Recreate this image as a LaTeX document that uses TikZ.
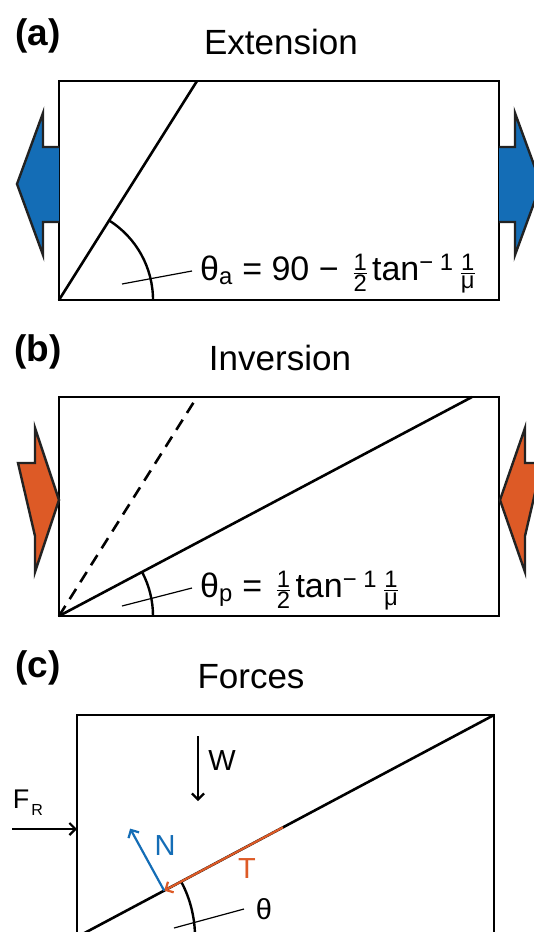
\documentclass[tikz,border=0pt]{standalone}
\usepackage{fontspec}
\usepackage{amsmath}
\setmainfont{Liberation Sans}
\usetikzlibrary{arrows.meta,calc}
\definecolor{pushblue}{HTML}{146DB6}
\definecolor{pushorange}{HTML}{DD5A26}
\definecolor{outline}{HTML}{222222}
\tikzset{
  block/.style={draw=black, line width=2.8pt, outer sep=0pt, inner sep=0pt},
  fault/.style={line width=2.6pt},
  anglearc/.style={line width=2.4pt},
  leader/.style={line width=1.2pt},
  push/.style={draw=outline, line width=2.4pt, line join=miter},
  panel/.style={font=\fontsize{37}{40}\selectfont\bfseries},
  title/.style={font=\fontsize{35}{40}\selectfont, inner sep=0pt},
  formula/.style={font=\fontsize{34}{40}\selectfont, inner sep=0pt, anchor=base west},
  flabel/.style={font=\fontsize{29}{34}\selectfont, inner sep=0pt},
  force/.style={-{Straight Barb[length=6pt, width=12pt]}, line width=2.2pt}
}

\begin{document}
\begin{tikzpicture}[x=1pt, y=1pt]
    \useasboundingbox (0,0) rectangle (534,-932);

    % (a) extension
    \node[panel] (labA) at (38,-36) {(a)};
    \node[title, anchor=base] (titA) at (281,-54) {Extension};
    \node[block, minimum width=440pt, minimum height=219pt] (boxA) at (279,-190.5) {};
    \coordinate (topA) at (197,-81);
    \draw[fault] (boxA.south west) -- (topA);
    \draw[anglearc] ($(boxA.south west)+(94,0)$) arc[start angle=0, end angle=57.8, radius=94pt];
    \coordinate (leadA1) at (122,-284);
    \coordinate (leadA2) at (192,-271);
    \draw[leader] (leadA1) -- (leadA2);
    \node[formula] (formA) at (200,-280)
      {θ\textsubscript{a} = 90 − $\,\frac{\text{1}}{\text{2}}\,$tan$^{\text{− 1}}$\hspace{6pt}$\frac{\text{1}}{\text{μ}}$};
    \draw[push, fill=pushblue] (59,-147) -- (43,-147) -- (43,-113) -- (17,-184)
      -- (43,-255) -- (43,-222) -- (59,-222);
    \draw[push, fill=pushblue] (499,-147) -- (515,-147) -- (515,-113) -- (541,-184)
      -- (515,-255) -- (515,-222) -- (499,-222);

    % (b) inversion
    \node[panel] (labB) at (38,-352) {(b)};
    \node[title, anchor=base] (titB) at (280,-370) {Inversion};
    \node[block, minimum width=440pt, minimum height=219pt] (boxB) at (279,-506.5) {};
    \coordinate (dashB) at (197,-397);
    \coordinate (topB) at (472,-397);
    \draw[fault, dash pattern=on 12pt off 8pt] (boxB.south west) -- (dashB);
    \draw[fault] (boxB.south west) -- (topB);
    \draw[anglearc] ($(boxB.south west)+(94,0)$) arc[start angle=0, end angle=27.9, radius=94pt];
    \coordinate (leadB1) at (122,-606);
    \coordinate (leadB2) at (192,-588);
    \draw[leader] (leadB1) -- (leadB2);
    \node[formula] (formB) at (200,-597)
      {θ\textsubscript{p} = $\,\frac{\text{1}}{\text{2}}\,$tan$^{\text{− 1}}$\hspace{6pt}$\frac{\text{1}}{\text{μ}}$};
    \draw[push, fill=pushorange] (18,-463) -- (35,-463) -- (35,-428) -- (59,-500)
      -- (35,-572) -- (35,-536) -- cycle;
    \draw[push, fill=pushorange] (542,-463) -- (525,-463) -- (525,-428) -- (500,-500)
      -- (525,-572) -- (525,-536) -- cycle;

    % (c) forces
    \node[panel] (labC) at (38,-668) {(c)};
    \node[title, anchor=base] (titC) at (251,-688) {Forces};
    \node[block, minimum width=417pt, minimum height=222pt] (boxC) at (285.5,-826) {};
    \draw[fault] (boxC.south west) -- (boxC.north east);
    \draw[anglearc] ($(boxC.south west)+(118,0)$) arc[start angle=0, end angle=27.7, radius=118pt];
    \coordinate (leadC1) at (174,-928);
    \coordinate (leadC2) at (244,-909);
    \draw[leader] (leadC1) -- (leadC2);
    \node[flabel] (theta) at (264,-909) {θ};

    \coordinate (tTail) at ($(boxC.south west)!0.494!(boxC.north east)$);
    \coordinate (tHead) at ($(boxC.south west)!0.209!(boxC.north east)$);
    \coordinate (nTip) at ($(tHead)+(-34,62)$);
    \draw[force, pushorange] (tTail) -- (tHead);
    \node[flabel, text=pushorange] (tLab) at (247,-869) {T};
    \draw[force, pushblue] (tHead) -- (nTip);
    \node[flabel, text=pushblue] (nLab) at (165,-846) {N};

    \coordinate (wTail) at (198,-736);
    \coordinate (wHead) at (198,-801);
    \draw[force] (wTail) -- (wHead);
    \node[flabel] (wLab) at (222,-761) {W};

    \coordinate (fTail) at (12,-829);
    \draw[force] (fTail) -- (fTail -| boxC.west);
    \node[flabel, font=\fontsize{27}{32}\selectfont] (fLab) at (28,-803)
      {F\hspace{2pt}\raisebox{-7pt}{\fontsize{16}{18}\selectfont R}};
\end{tikzpicture}
\end{document}
